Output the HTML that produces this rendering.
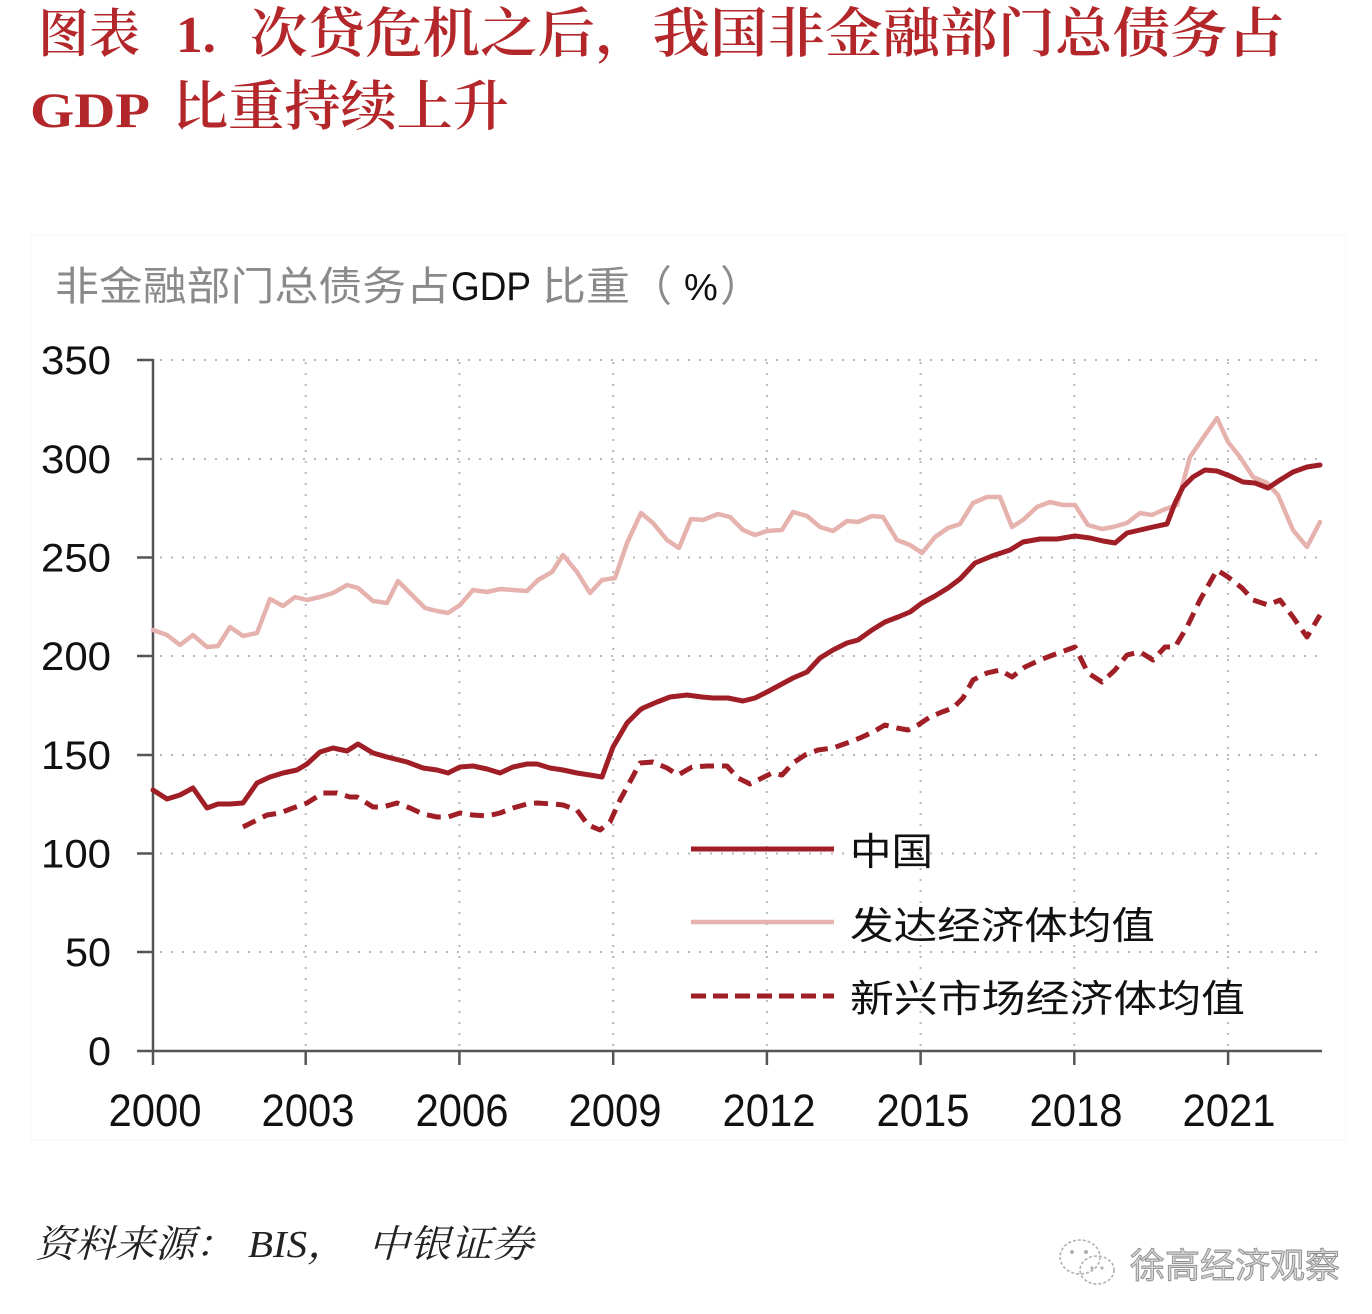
<!DOCTYPE html>
<html>
<head>
<meta charset="utf-8">
<style>
html,body{margin:0;padding:0;background:#fff;}
body{width:1372px;height:1314px;overflow:hidden;}
svg{display:block;}
</style>
</head>
<body>
<svg width="1372" height="1314" viewBox="0 0 1372 1314" xmlns="http://www.w3.org/2000/svg">
<rect x="0" y="0" width="1372" height="1314" fill="#fff"/>

<!-- Title -->
<g font-family="'Liberation Serif','Noto Serif CJK SC',serif" font-weight="600" fill="#B3262A">
  <text x="38" y="52" font-size="52" textLength="102" lengthAdjust="spacingAndGlyphs">图表</text>
  <text x="176" y="52" font-size="52" font-weight="bold" textLength="40" lengthAdjust="spacingAndGlyphs">1.</text>
  <text x="250" y="52" font-size="54" textLength="1035" lengthAdjust="spacingAndGlyphs">次贷危机之后，我国非金融部门总债务占</text>
  <text x="30" y="127" font-size="50" font-weight="bold" textLength="120" lengthAdjust="spacingAndGlyphs">GDP</text>
  <text x="172" y="125" font-size="54" textLength="337" lengthAdjust="spacingAndGlyphs">比重持续上升</text>
</g>

<!-- faint chart frame -->
<rect x="31" y="235" width="1315" height="905" fill="none" stroke="#f8f8f8" stroke-width="1.2"/>

<!-- Axis title -->
<g font-family="'Liberation Sans','Noto Sans CJK SC',sans-serif" font-size="40">
  <text x="55" y="300" fill="#8a8a8a" textLength="395" lengthAdjust="spacingAndGlyphs">非金融部门总债务占</text>
  <text x="451" y="300" fill="#111" textLength="80" lengthAdjust="spacingAndGlyphs">GDP</text>
  <text x="542" y="300" fill="#8a8a8a" textLength="88" lengthAdjust="spacingAndGlyphs">比重</text>
  <text x="630" y="301" fill="#8a8a8a" font-size="42">（</text>
  <text x="684" y="300" fill="#111" font-size="38">%</text>
  <text x="720" y="301" fill="#8a8a8a" font-size="42">）</text>
</g>

<!-- Grid -->
<g stroke="#b8b8b8" stroke-width="2" stroke-dasharray="2 9" fill="none">
  <line x1="160" y1="360" x2="1322" y2="360"/>
  <line x1="160" y1="459" x2="1322" y2="459"/>
  <line x1="160" y1="557.5" x2="1322" y2="557.5"/>
  <line x1="160" y1="656" x2="1322" y2="656"/>
  <line x1="160" y1="755" x2="1322" y2="755"/>
  <line x1="160" y1="853.5" x2="1322" y2="853.5"/>
  <line x1="160" y1="952" x2="1322" y2="952"/>
  <line x1="305.7" y1="362" x2="305.7" y2="1050"/>
  <line x1="459.4" y1="362" x2="459.4" y2="1050"/>
  <line x1="613.2" y1="362" x2="613.2" y2="1050"/>
  <line x1="766.9" y1="362" x2="766.9" y2="1050"/>
  <line x1="920.6" y1="362" x2="920.6" y2="1050"/>
  <line x1="1074.3" y1="362" x2="1074.3" y2="1050"/>
  <line x1="1228.1" y1="362" x2="1228.1" y2="1050"/>
</g>

<!-- Axes -->
<g stroke="#555" stroke-width="2.5" fill="none">
  <line x1="153" y1="359" x2="153" y2="1052"/>
  <line x1="152" y1="1051" x2="1322" y2="1051"/>
  <line x1="137" y1="360" x2="153" y2="360"/>
  <line x1="137" y1="459" x2="153" y2="459"/>
  <line x1="137" y1="557.5" x2="153" y2="557.5"/>
  <line x1="137" y1="656" x2="153" y2="656"/>
  <line x1="137" y1="755" x2="153" y2="755"/>
  <line x1="137" y1="853.5" x2="153" y2="853.5"/>
  <line x1="137" y1="952" x2="153" y2="952"/>
  <line x1="137" y1="1051" x2="153" y2="1051"/>
  <line x1="153" y1="1051" x2="153" y2="1065"/>
  <line x1="305.7" y1="1051" x2="305.7" y2="1065"/>
  <line x1="459.4" y1="1051" x2="459.4" y2="1065"/>
  <line x1="613.2" y1="1051" x2="613.2" y2="1065"/>
  <line x1="766.9" y1="1051" x2="766.9" y2="1065"/>
  <line x1="920.6" y1="1051" x2="920.6" y2="1065"/>
  <line x1="1074.3" y1="1051" x2="1074.3" y2="1065"/>
  <line x1="1228.1" y1="1051" x2="1228.1" y2="1065"/>
</g>

<!-- Y labels -->
<g font-family="'Liberation Sans',sans-serif" font-size="40" fill="#111" text-anchor="end">
  <text x="111" y="374" textLength="70" lengthAdjust="spacingAndGlyphs">350</text>
  <text x="111" y="473" textLength="70" lengthAdjust="spacingAndGlyphs">300</text>
  <text x="111" y="571.5" textLength="70" lengthAdjust="spacingAndGlyphs">250</text>
  <text x="111" y="670" textLength="70" lengthAdjust="spacingAndGlyphs">200</text>
  <text x="111" y="769" textLength="70" lengthAdjust="spacingAndGlyphs">150</text>
  <text x="111" y="867.5" textLength="70" lengthAdjust="spacingAndGlyphs">100</text>
  <text x="111" y="966" textLength="46" lengthAdjust="spacingAndGlyphs">50</text>
  <text x="111" y="1065" textLength="23" lengthAdjust="spacingAndGlyphs">0</text>
</g>

<!-- X labels -->
<g font-family="'Liberation Sans',sans-serif" font-size="45" fill="#111" text-anchor="middle">
  <text x="155" y="1126" textLength="93" lengthAdjust="spacingAndGlyphs">2000</text>
  <text x="308" y="1126" textLength="93" lengthAdjust="spacingAndGlyphs">2003</text>
  <text x="462" y="1126" textLength="93" lengthAdjust="spacingAndGlyphs">2006</text>
  <text x="615" y="1126" textLength="93" lengthAdjust="spacingAndGlyphs">2009</text>
  <text x="769" y="1126" textLength="93" lengthAdjust="spacingAndGlyphs">2012</text>
  <text x="923" y="1126" textLength="93" lengthAdjust="spacingAndGlyphs">2015</text>
  <text x="1076" y="1126" textLength="93" lengthAdjust="spacingAndGlyphs">2018</text>
  <text x="1229" y="1126" textLength="93" lengthAdjust="spacingAndGlyphs">2021</text>
</g>

<!-- Developed economies (pink) -->
<polyline fill="none" stroke="#E6B2AE" stroke-width="4.5" stroke-linejoin="round" stroke-linecap="round"
points="153,630 167,635 180,645 193,635 207,647 218,646 230,627 243,636 257,633 270,599 283,606 295,597 307,600 320,597 333,593 347,585 358,588 373,601 387,603 398,581 412,595 425,608 437,611 448,613 460,605 473,590 487,592 500,589 513,590 527,591 538,580 552,572 563,555 577,572 590,593 602,580 615,578 627,543 641,513 653,523 667,540 679,548 691,519 703,520 718,514 730,517 743,530 755,535 767,531 782,530 793,512 807,516 820,527 833,531 847,521 858,522 872,516 883,517 897,540 910,545 922,553 935,537 948,528 960,524 973,503 987,497 1000,497 1012,527 1023,520 1037,507 1050,502 1063,505 1075,505 1088,525 1102,529 1113,527 1127,523 1140,513 1152,515 1163,510 1177,505 1190,457 1203,438 1217,418 1228,442 1240,457 1253,477 1267,483 1278,495 1293,530 1307,547 1320,522"/>

<!-- Emerging markets (dashed) -->
<polyline fill="none" stroke="#A01E26" stroke-width="5" stroke-dasharray="14 8" stroke-linejoin="round"
points="243,827 267,815 280,813 293,808 307,803 323,793 337,793 350,797 357,797 373,807 383,807 397,803 410,808 423,814 437,817 448,817 460,813 473,815 487,816 500,813 513,808 527,804 537,803 553,804 563,805 577,810 588,825 600,830 610,822 620,800 632,778 640,763 653,762 667,768 678,775 692,767 707,766 727,766 738,778 750,784 762,778 772,773 782,775 793,763 805,755 818,750 833,748 847,743 860,738 873,732 885,725 897,728 908,730 918,725 930,717 942,712 953,708 963,698 973,680 987,673 1000,670 1012,677 1025,667 1040,660 1053,655 1075,647 1088,673 1102,682 1115,670 1127,655 1140,652 1153,660 1165,647 1175,647 1187,627 1200,600 1217,570 1228,577 1242,588 1253,600 1268,605 1280,600 1293,617 1307,637 1320,615"/>

<!-- China (solid dark red) -->
<polyline fill="none" stroke="#A01E26" stroke-width="5" stroke-linejoin="round" stroke-linecap="round"
points="153,790 167,799 180,795 193,788 207,808 218,804 230,804 243,803 257,783 270,777 283,773 297,770 307,764 320,752 333,748 347,751 358,744 373,753 387,757 407,762 423,768 437,770 448,773 460,767 473,766 487,769 500,773 513,767 527,764 537,764 550,768 563,770 577,773 590,775 602,777 613,747 627,723 640,710 643,708 657,702 670,697 687,695 702,697 713,698 728,698 743,701 755,698 767,692 780,685 793,678 807,672 820,658 833,650 847,643 858,640 872,630 885,622 898,617 910,612 922,603 935,596 948,588 960,579 975,563 992,556 1010,550 1023,542 1040,539 1057,539 1075,536 1090,538 1103,541 1115,543 1127,533 1140,530 1153,527 1167,524 1175,503 1183,487 1193,477 1205,470 1217,471 1230,476 1243,482 1255,483 1268,488 1280,480 1293,472 1307,467 1320,465"/>

<!-- Legend -->
<line x1="691" y1="849" x2="834" y2="849" stroke="#A01E26" stroke-width="5"/>
<line x1="691" y1="922" x2="834" y2="922" stroke="#E6B2AE" stroke-width="4.5"/>
<line x1="691" y1="996" x2="834" y2="996" stroke="#A01E26" stroke-width="5" stroke-dasharray="15 7"/>
<g font-family="'Liberation Sans','Noto Sans CJK SC',sans-serif" font-size="38" fill="#111">
  <text x="850" y="865" textLength="83" lengthAdjust="spacingAndGlyphs">中国</text>
  <text x="850" y="939" textLength="305" lengthAdjust="spacingAndGlyphs">发达经济体均值</text>
  <text x="850" y="1012" textLength="395" lengthAdjust="spacingAndGlyphs">新兴市场经济体均值</text>
</g>

<!-- Source -->
<g font-family="'Liberation Serif','Noto Serif CJK SC',serif" font-style="italic" font-size="38" fill="#222">
  <text x="35" y="1257" textLength="200" lengthAdjust="spacingAndGlyphs">资料来源：</text>
  <text x="248" y="1257" textLength="100" lengthAdjust="spacingAndGlyphs">BIS，</text>
  <text x="368" y="1257" textLength="165" lengthAdjust="spacingAndGlyphs">中银证券</text>
</g>

<!-- Watermark -->
<g fill="none" stroke="#b0b0b0" stroke-width="1.6" stroke-dasharray="3 2">
  <ellipse cx="1080" cy="1257" rx="20" ry="17"/>
  <ellipse cx="1097" cy="1270" rx="17" ry="14"/>
</g>
<g fill="#b0b0b0">
  <circle cx="1072" cy="1252" r="2"/>
  <circle cx="1086" cy="1252" r="2"/>
  <circle cx="1092" cy="1268" r="1.6"/>
  <circle cx="1102" cy="1268" r="1.6"/>
</g>
<text x="1130" y="1278" font-family="'Liberation Sans','Noto Sans CJK SC',sans-serif" font-size="35" fill="#d6d6d6" stroke="#8e8e8e" stroke-width="0.9" textLength="210" lengthAdjust="spacingAndGlyphs">徐高经济观察</text>
</svg>
</body>
</html>
